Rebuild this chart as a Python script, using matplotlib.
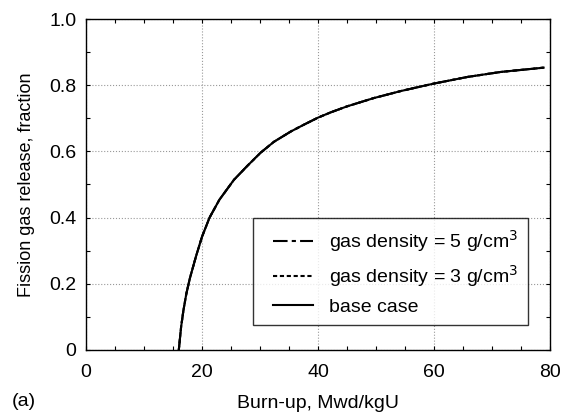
import numpy as np
from matplotlib import pyplot as plt
from matplotlib.ticker import MultipleLocator
from matplotlib.lines import Line2D
from matplotlib.legend_handler import HandlerLine2D

plt.rcParams['font.family'] = ['Liberation Sans', 'DejaVu Sans']

# burn-up (Mwd/kgU) and fission gas release fraction
burnup = [16.0, 16.4, 16.8, 17.3, 17.9, 19.0, 20.0, 21.3, 23.0, 25.5, 27.8,
          30.1, 32.4, 35.3, 37.6, 40.0, 42.2, 45.0, 49.6, 54.2, 57.7, 60.0,
          65.8, 71.5, 78.9]
release = [0.0, 0.07, 0.12, 0.17, 0.216, 0.285, 0.342, 0.40, 0.454, 0.514, 0.556,
           0.596, 0.629, 0.660, 0.681, 0.702, 0.718, 0.736, 0.761, 0.782, 0.796, 0.805,
           0.825, 0.840, 0.853]

labels = ["gas density = 5 g/cm$^3$", "gas density = 3 g/cm$^3$", "base case"]
xticks = [0, 20, 40, 60, 80]
yticks = [0, 0.2, 0.4, 0.6, 0.8, 1.0]
yticklabels = ["0", "0.2", "0.4", "0.6", "0.8", "1.0"]

fig = plt.figure(figsize=(5.61, 4.16), dpi=100)
ax = fig.add_axes([86/561, 1-350/416, 464/561, 331/416])

ax.plot(burnup, release, color='black', lw=1.5, ls=(0, (7, 2, 2, 2)), label=labels[0])
ax.plot(burnup, release, color='black', lw=1.5, ls=(0, (2, 1.3)), label=labels[1])
ax.plot(burnup, release, color='black', lw=1.5, ls='-', label=labels[2])

ax.set_xlim(0, 80)
ax.set_ylim(0, 1.0)
ax.set_xticks(xticks)
ax.set_yticks(yticks)
ax.set_yticklabels(yticklabels)
ax.xaxis.set_minor_locator(MultipleLocator(5))
ax.yaxis.set_minor_locator(MultipleLocator(0.1))
ax.tick_params(which='both', direction='in', top=True, right=True, length=3, width=0.8,
               labelsize=14)
ax.tick_params(axis='x', pad=10)
ax.tick_params(axis='y', pad=7)
ax.grid(True, which='major', ls=':', color='#999999', lw=0.8)
for s in ax.spines.values():
    s.set_linewidth(1.0)

ax.set_xlabel("Burn-up, Mwd/kgU", fontsize=14, labelpad=10)
ax.set_ylabel("Fission gas release, fraction", fontsize=13, labelpad=10)
fig.text(12/561, 1-402/416, "(a)", fontsize=14, va='center', ha='left')

leg = ax.legend(loc='upper left', bbox_to_anchor=(0.36, 0.399), borderaxespad=0,
                fontsize=14, frameon=True, fancybox=False, handlelength=2.6,
                borderpad=0.5, labelspacing=0.48, handletextpad=0.8,
                handler_map={Line2D: HandlerLine2D(xpad=0.53)})
leg.get_frame().set_edgecolor('black')
leg.get_frame().set_linewidth(1.0)

fig.savefig("out.png", dpi=100)
